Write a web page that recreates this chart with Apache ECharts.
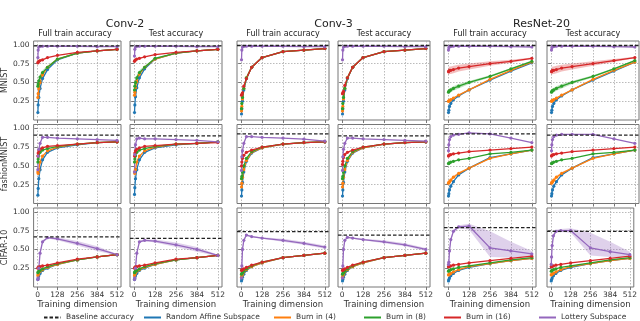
<!DOCTYPE html>
<html>
<head>
<meta charset="UTF-8">
<title>Subspace training accuracy</title>
<script src="https://cdn.jsdelivr.net/npm/echarts@6/dist/echarts.min.js"></script>
<style>
  html, body { margin: 0; padding: 0; background: #fff; }
  #chart { width: 640px; height: 321px; }
</style>
</head>
<body>
<div id="chart"></div>
<script>
// training dimensions shared by every curve
var dims = [2, 4, 8, 16, 32, 64, 128, 256, 384, 512];
var xTicks = [0, 128, 256, 384, 512];
var yTicks = [0.25, 0.5, 0.75, 1.0];
var models = ['Conv-2', 'Conv-3', 'ResNet-20'];
var panelTitles = ['Full train accuracy', 'Test accuracy'];
var datasets = ['MNIST', 'fashionMNIST', 'CIFAR-10'];

// one entry per panel, row by row (MNIST, fashionMNIST, CIFAR-10), 6 panels a row
var baseline = [0.985, 0.985, 0.99, 0.99, 0.99, 0.99,
                0.91, 0.90, 0.925, 0.90, 0.925, 0.91,
                0.665, 0.645, 0.735, 0.69, 0.79, 0.74];

var randomAffine = [
  [0.10,0.20,0.30,0.42,0.55,0.67,0.80,0.89,0.92,0.94],
  [0.10,0.20,0.31,0.43,0.56,0.68,0.81,0.89,0.92,0.94],
  [0.08,0.15,0.25,0.40,0.55,0.70,0.83,0.91,0.93,0.95],
  [0.08,0.15,0.25,0.40,0.55,0.70,0.83,0.91,0.93,0.95],
  [0.10,0.13,0.18,0.22,0.27,0.32,0.40,0.53,0.65,0.76],
  [0.10,0.13,0.18,0.22,0.27,0.32,0.40,0.53,0.65,0.77],
  [0.11,0.20,0.33,0.45,0.58,0.68,0.74,0.78,0.81,0.82],
  [0.12,0.21,0.33,0.45,0.58,0.68,0.74,0.78,0.80,0.82],
  [0.10,0.18,0.28,0.42,0.56,0.67,0.74,0.79,0.81,0.82],
  [0.10,0.18,0.28,0.42,0.56,0.67,0.74,0.79,0.81,0.82],
  [0.10,0.13,0.18,0.23,0.29,0.38,0.47,0.61,0.66,0.71],
  [0.10,0.13,0.18,0.23,0.29,0.38,0.47,0.61,0.66,0.71],
  [0.10,0.12,0.15,0.18,0.22,0.25,0.30,0.36,0.40,0.43],
  [0.10,0.12,0.15,0.18,0.22,0.25,0.30,0.36,0.39,0.42],
  [0.08,0.10,0.13,0.17,0.22,0.27,0.32,0.39,0.42,0.45],
  [0.08,0.10,0.13,0.17,0.22,0.27,0.32,0.39,0.42,0.45],
  [0.08,0.10,0.12,0.15,0.18,0.22,0.26,0.31,0.35,0.38],
  [0.08,0.10,0.12,0.15,0.18,0.22,0.26,0.31,0.35,0.38]
];

var burnIn4 = [
  [0.30,0.35,0.42,0.50,0.60,0.70,0.81,0.89,0.92,0.94],
  [0.33,0.37,0.43,0.51,0.61,0.70,0.81,0.89,0.92,0.94],
  [0.12,0.18,0.28,0.42,0.56,0.70,0.83,0.91,0.93,0.95],
  [0.12,0.18,0.28,0.42,0.56,0.70,0.83,0.91,0.93,0.95],
  [0.25,0.25,0.26,0.27,0.29,0.33,0.40,0.54,0.66,0.77],
  [0.25,0.25,0.26,0.27,0.29,0.33,0.40,0.54,0.66,0.77],
  [0.42,0.40,0.45,0.55,0.63,0.70,0.75,0.79,0.81,0.82],
  [0.42,0.40,0.45,0.55,0.63,0.70,0.75,0.79,0.80,0.82],
  [0.22,0.27,0.35,0.45,0.57,0.68,0.74,0.79,0.81,0.82],
  [0.22,0.27,0.35,0.45,0.57,0.68,0.74,0.79,0.81,0.82],
  [0.27,0.28,0.29,0.31,0.35,0.40,0.47,0.60,0.66,0.71],
  [0.27,0.28,0.29,0.31,0.35,0.40,0.47,0.60,0.66,0.71],
  [0.15,0.17,0.19,0.21,0.23,0.26,0.30,0.36,0.40,0.43],
  [0.15,0.17,0.19,0.21,0.23,0.26,0.30,0.36,0.39,0.42],
  [0.13,0.15,0.17,0.20,0.23,0.27,0.32,0.39,0.42,0.45],
  [0.13,0.15,0.17,0.20,0.23,0.27,0.32,0.39,0.42,0.45],
  [0.16,0.165,0.17,0.18,0.20,0.23,0.27,0.31,0.35,0.38],
  [0.16,0.165,0.17,0.18,0.20,0.23,0.27,0.31,0.35,0.38]
];

var burnIn8 = [
  [0.45,0.48,0.52,0.57,0.63,0.70,0.81,0.89,0.92,0.94],
  [0.40,0.45,0.50,0.56,0.63,0.70,0.82,0.89,0.92,0.94],
  [0.15,0.22,0.30,0.42,0.56,0.70,0.83,0.91,0.93,0.95],
  [0.15,0.22,0.30,0.42,0.56,0.70,0.83,0.91,0.93,0.95],
  [0.37,0.38,0.39,0.40,0.42,0.45,0.50,0.58,0.68,0.78],
  [0.37,0.38,0.39,0.40,0.42,0.45,0.50,0.58,0.68,0.79],
  [0.55,0.59,0.63,0.68,0.71,0.73,0.76,0.79,0.81,0.82],
  [0.55,0.59,0.63,0.68,0.71,0.73,0.76,0.79,0.80,0.82],
  [0.33,0.36,0.42,0.50,0.60,0.69,0.75,0.79,0.81,0.82],
  [0.33,0.36,0.42,0.50,0.60,0.69,0.75,0.79,0.81,0.82],
  [0.53,0.535,0.54,0.55,0.56,0.58,0.60,0.66,0.68,0.71],
  [0.53,0.535,0.54,0.55,0.56,0.58,0.60,0.66,0.68,0.71],
  [0.19,0.20,0.21,0.22,0.24,0.27,0.31,0.36,0.40,0.43],
  [0.19,0.20,0.21,0.22,0.24,0.27,0.31,0.36,0.39,0.42],
  [0.17,0.18,0.19,0.21,0.24,0.28,0.33,0.39,0.42,0.45],
  [0.17,0.18,0.19,0.21,0.24,0.28,0.33,0.39,0.42,0.45],
  [0.21,0.215,0.22,0.23,0.24,0.26,0.28,0.32,0.36,0.39],
  [0.21,0.215,0.22,0.23,0.24,0.26,0.28,0.32,0.36,0.39]
];

var burnIn16 = [
  [0.76,0.77,0.78,0.79,0.80,0.83,0.86,0.90,0.92,0.94],
  [0.78,0.79,0.80,0.81,0.82,0.84,0.87,0.90,0.92,0.94],
  [0.33,0.34,0.36,0.45,0.55,0.70,0.83,0.91,0.93,0.95],
  [0.35,0.36,0.38,0.46,0.56,0.70,0.83,0.91,0.93,0.95],
  [0.64,0.65,0.66,0.66,0.67,0.69,0.71,0.75,0.78,0.82],
  [0.64,0.65,0.66,0.66,0.67,0.69,0.71,0.75,0.79,0.83],
  [0.63,0.67,0.70,0.72,0.74,0.76,0.77,0.79,0.81,0.82],
  [0.63,0.67,0.70,0.72,0.74,0.76,0.77,0.79,0.80,0.81],
  [0.50,0.55,0.60,0.64,0.68,0.71,0.75,0.79,0.81,0.82],
  [0.52,0.56,0.61,0.65,0.68,0.71,0.75,0.79,0.81,0.82],
  [0.63,0.64,0.645,0.65,0.66,0.67,0.69,0.71,0.73,0.75],
  [0.63,0.64,0.645,0.65,0.66,0.67,0.69,0.71,0.73,0.75],
  [0.25,0.26,0.265,0.27,0.28,0.29,0.32,0.37,0.40,0.43],
  [0.25,0.26,0.265,0.27,0.28,0.29,0.32,0.37,0.39,0.42],
  [0.22,0.225,0.23,0.24,0.26,0.29,0.33,0.39,0.42,0.45],
  [0.22,0.225,0.23,0.24,0.26,0.29,0.33,0.39,0.42,0.45],
  [0.27,0.27,0.275,0.28,0.29,0.30,0.32,0.35,0.38,0.41],
  [0.27,0.27,0.275,0.28,0.29,0.30,0.32,0.35,0.38,0.41]
];

var lottery = [
  [0.83,0.93,0.97,0.98,0.98,0.98,0.98,0.98,0.975,0.975],
  [0.85,0.94,0.97,0.98,0.98,0.98,0.98,0.98,0.975,0.975],
  [0.80,0.93,0.97,0.98,0.98,0.98,0.98,0.98,0.975,0.975],
  [0.80,0.93,0.97,0.98,0.98,0.98,0.98,0.98,0.975,0.975],
  [0.93,0.96,0.98,0.98,0.98,0.98,0.98,0.98,0.975,0.97],
  [0.93,0.96,0.98,0.98,0.98,0.98,0.98,0.98,0.975,0.97],
  [0.45,0.63,0.72,0.80,0.88,0.88,0.87,0.86,0.85,0.84],
  [0.42,0.65,0.78,0.86,0.87,0.86,0.86,0.85,0.84,0.82],
  [0.44,0.62,0.70,0.80,0.89,0.89,0.88,0.87,0.855,0.83],
  [0.44,0.62,0.72,0.80,0.87,0.87,0.86,0.85,0.84,0.83],
  [0.70,0.78,0.85,0.89,0.91,0.92,0.94,0.925,0.87,0.81],
  [0.70,0.78,0.85,0.89,0.91,0.92,0.92,0.92,0.86,0.80],
  [0.10,0.12,0.25,0.45,0.60,0.655,0.64,0.58,0.51,0.43],
  [0.10,0.12,0.25,0.45,0.60,0.62,0.61,0.56,0.50,0.42],
  [0.12,0.28,0.50,0.62,0.69,0.67,0.65,0.62,0.58,0.53],
  [0.12,0.28,0.50,0.62,0.66,0.65,0.63,0.60,0.56,0.50],
  [0.30,0.33,0.48,0.63,0.74,0.80,0.81,0.52,0.48,0.44],
  [0.30,0.40,0.55,0.68,0.74,0.75,0.75,0.52,0.47,0.43]
];

// shaded spread (lower / upper) where it is visible
var bands = [
  {panel: 0, color: '#2ca02c', lo: [0.40,0.43,0.47,0.53,0.60,0.68,0.80,0.885,0.915,0.935], hi: [0.50,0.53,0.57,0.61,0.66,0.72,0.82,0.895,0.925,0.945]},
  {panel: 1, color: '#2ca02c', lo: [0.34,0.40,0.45,0.52,0.60,0.68,0.81,0.885,0.915,0.935], hi: [0.46,0.50,0.55,0.60,0.66,0.72,0.83,0.895,0.925,0.945]},
  {panel: 4, color: '#d62728', lo: [0.59,0.60,0.61,0.61,0.62,0.645,0.67,0.72,0.76,0.81], hi: [0.69,0.70,0.71,0.71,0.72,0.735,0.75,0.78,0.80,0.83]},
  {panel: 5, color: '#d62728', lo: [0.59,0.60,0.61,0.61,0.62,0.645,0.67,0.72,0.77,0.82], hi: [0.69,0.70,0.71,0.71,0.72,0.735,0.75,0.78,0.81,0.84]},
  {panel: 4, color: '#2ca02c', lo: [0.34,0.35,0.36,0.37,0.39,0.42,0.48,0.565,0.67,0.77], hi: [0.40,0.41,0.42,0.43,0.45,0.48,0.52,0.595,0.69,0.79]},
  {panel: 5, color: '#2ca02c', lo: [0.34,0.35,0.36,0.37,0.39,0.42,0.48,0.565,0.67,0.78], hi: [0.40,0.41,0.42,0.43,0.45,0.48,0.52,0.595,0.69,0.80]},
  {panel: 10, color: '#ff7f0e', lo: [0.23,0.24,0.26,0.28,0.33,0.38,0.46,0.595,0.655,0.705], hi: [0.31,0.32,0.32,0.34,0.37,0.42,0.48,0.605,0.665,0.715]},
  {panel: 11, color: '#ff7f0e', lo: [0.23,0.24,0.26,0.28,0.33,0.38,0.46,0.595,0.655,0.705], hi: [0.31,0.32,0.32,0.34,0.37,0.42,0.48,0.605,0.665,0.715]},
  {panel: 12, color: '#9467bd', lo: [0.09,0.10,0.22,0.42,0.58,0.645,0.62,0.55,0.48,0.42], hi: [0.11,0.14,0.28,0.48,0.62,0.665,0.66,0.61,0.54,0.44]},
  {panel: 13, color: '#9467bd', lo: [0.09,0.10,0.22,0.42,0.58,0.61,0.59,0.53,0.47,0.41], hi: [0.11,0.14,0.28,0.48,0.62,0.63,0.63,0.59,0.53,0.43]},
  {panel: 14, color: '#9467bd', lo: [0.11,0.26,0.48,0.61,0.68,0.66,0.64,0.60,0.56,0.51], hi: [0.13,0.30,0.52,0.63,0.70,0.68,0.66,0.64,0.60,0.55]},
  {panel: 15, color: '#9467bd', lo: [0.11,0.26,0.48,0.61,0.65,0.64,0.62,0.58,0.54,0.48], hi: [0.13,0.30,0.52,0.63,0.67,0.66,0.64,0.62,0.58,0.52]},
  {panel: 16, color: '#9467bd', lo: [0.28,0.30,0.45,0.60,0.72,0.78,0.76,0.40,0.39,0.40], hi: [0.32,0.36,0.51,0.66,0.76,0.82,0.84,0.74,0.60,0.48]},
  {panel: 17, color: '#9467bd', lo: [0.28,0.37,0.52,0.65,0.72,0.73,0.72,0.42,0.40,0.40], hi: [0.32,0.43,0.58,0.71,0.76,0.77,0.78,0.72,0.60,0.47]}
];

var lineDefs = [
  {name: 'Random Affine Subspace', color: '#1f77b4', vals: randomAffine},
  {name: 'Burn in (4)', color: '#ff7f0e', vals: burnIn4},
  {name: 'Burn in (8)', color: '#2ca02c', vals: burnIn8},
  {name: 'Burn in (16)', color: '#d62728', vals: burnIn16},
  {name: 'Lottery Subspace', color: '#9467bd', vals: lottery}
];

// layout of the 3 x 6 panels
var FONT = 'DejaVu Sans';
var colLeft = [29, 130, 237, 338, 444, 547];
var rowTop = [41, 124.5, 208];
var panelW = 92, panelH = 79;
var X_MIN = -25.6, X_MAX = 537.6;

function pts(arr) {
  return dims.map(function (d, i) { return [d, arr[i]]; });
}

// band drawn as a polygon through the axis scales
function bandRenderer(b) {
  return function (params, api) {
    if (params.dataIndex !== 0) return null;
    var poly = [];
    dims.forEach(function (d, i) { poly.push(api.coord([d, b.hi[i]])); });
    for (var i = dims.length - 1; i >= 0; i--) poly.push(api.coord([dims[i], b.lo[i]]));
    return {type: 'polygon', shape: {points: poly}, style: {fill: b.color, opacity: 0.3}};
  };
}

var grids = [], xAxes = [], yAxes = [], series = [];

// legend-only series (plain line icons)
series.push({name: 'Baseline accuracy', type: 'line', data: [], symbol: 'none',
  lineStyle: {color: '#222', type: [3.5, 2], width: 1.3}, itemStyle: {color: '#222'}});
lineDefs.forEach(function (d) {
  series.push({name: d.name, type: 'line', data: [], symbol: 'none',
    lineStyle: {color: d.color, width: 1.3}, itemStyle: {color: d.color}});
});

for (var r = 0; r < 3; r++) {
  for (var c = 0; c < 6; c++) {
    var p = r * 6 + c;
    grids.push({left: colLeft[c], top: rowTop[r], width: panelW, height: panelH,
      show: true, borderColor: '#777', borderWidth: 1, backgroundColor: '#fff'});
    xAxes.push({
      type: 'value', gridIndex: p, min: X_MIN, max: X_MAX,
      name: r === 2 ? 'Training dimension' : '', nameLocation: 'middle', nameGap: 12,
      nameTextStyle: {fontSize: 8.5, color: '#333', fontFamily: FONT},
      axisLine: {show: false},
      axisTick: {show: true, customValues: xTicks, length: 3, lineStyle: {color: '#777'}},
      axisLabel: {show: r === 2, customValues: xTicks, fontSize: 7.5, color: '#333', margin: 4, fontFamily: FONT},
      splitLine: {show: true, lineStyle: {type: [1.5, 1.5], color: '#aaa', width: 0.8}}
    });
    yAxes.push({
      type: 'value', gridIndex: p, min: 0, max: 1.05,
      name: c === 0 ? datasets[r] : '', nameLocation: 'middle', nameGap: 19,
      nameTextStyle: {fontSize: 8, color: '#333', fontFamily: FONT},
      axisLine: {show: false},
      axisTick: {show: true, customValues: yTicks, length: 3, lineStyle: {color: '#777'}},
      axisLabel: {show: c === 0, customValues: yTicks, fontSize: 7.5, color: '#333', margin: 4,
        fontFamily: FONT, formatter: function (v) { return v.toFixed(2); }},
      splitLine: {show: true, lineStyle: {type: [1.5, 1.5], color: '#aaa', width: 0.8}}
    });

    bands.forEach(function (b) {
      if (b.panel !== p) return;
      series.push({type: 'custom', xAxisIndex: p, yAxisIndex: p, silent: true, z: 1,
        data: pts(b.lo), renderItem: bandRenderer(b)});
    });

    lineDefs.forEach(function (d) {
      series.push({name: d.name, type: 'line', xAxisIndex: p, yAxisIndex: p,
        data: pts(d.vals[p]), symbol: 'circle', symbolSize: 3.2, showSymbol: true,
        lineStyle: {color: d.color, width: 1.3}, itemStyle: {color: d.color}, z: 2});
    });

    series.push({name: 'Baseline accuracy', type: 'line', xAxisIndex: p, yAxisIndex: p,
      data: [[X_MIN, baseline[p]], [X_MAX, baseline[p]]], symbol: 'none',
      lineStyle: {color: '#222', type: [3.5, 2], width: 1.3}, z: 3});
  }
}

// titles
var graphics = [];
var modelCenters = [125, 333.5, 541.5];
models.forEach(function (m, i) {
  graphics.push({type: 'text', x: modelCenters[i], y: 24,
    style: {text: m, font: '11px ' + FONT, fill: '#222', align: 'center', verticalAlign: 'middle'}});
});
colLeft.forEach(function (l, c) {
  graphics.push({type: 'text', x: l + panelW / 2, y: 33.5,
    style: {text: panelTitles[c % 2], font: '8px ' + FONT, fill: '#222', align: 'center', verticalAlign: 'middle'}});
});

// legend placed item by item along the bottom
var legendNames = ['Baseline accuracy', 'Random Affine Subspace', 'Burn in (4)', 'Burn in (8)', 'Burn in (16)', 'Lottery Subspace'];
var legendLeft = [43, 143, 273, 363, 443, 538];
var legends = legendNames.map(function (n, i) {
  return {data: [n], left: legendLeft[i], top: 313.5, padding: 0, itemWidth: 17, itemHeight: 8,
    selectedMode: false, itemStyle: {opacity: 0},
    textStyle: {fontSize: 7.5, color: '#333', fontFamily: FONT}};
});

var myChart = echarts.init(document.getElementById('chart'));
myChart.setOption({
  animation: false,
  textStyle: {fontFamily: FONT},
  grid: grids,
  xAxis: xAxes,
  yAxis: yAxes,
  legend: legends,
  graphic: graphics,
  series: series
});
</script>
</body>
</html>
